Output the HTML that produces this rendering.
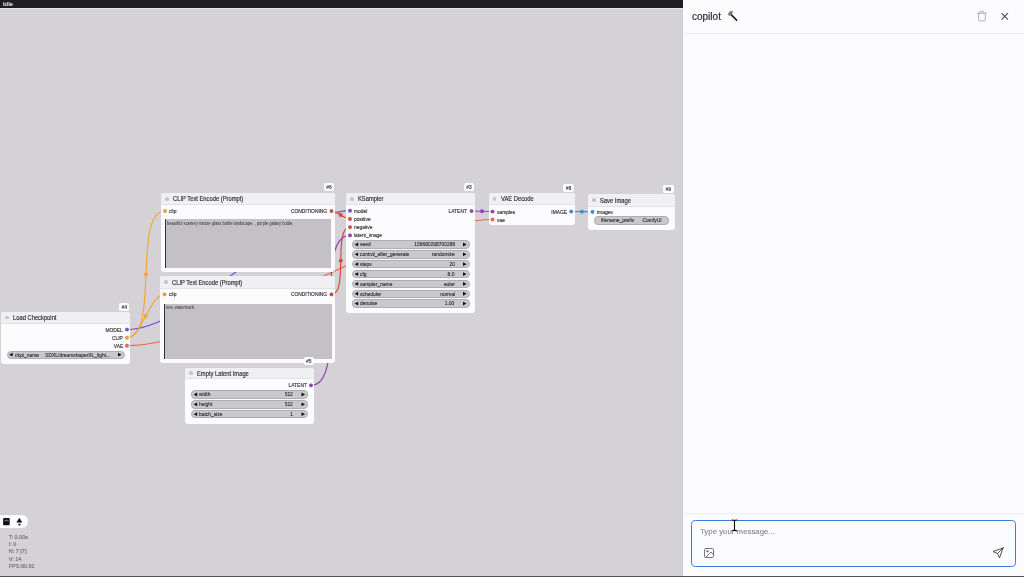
<!DOCTYPE html>
<html><head><meta charset="utf-8"><style>
*{margin:0;padding:0;box-sizing:border-box}
.node,.lbl,.w,.stats{-webkit-text-stroke:0.15px currentColor}
.ta span{-webkit-text-stroke:0}
html,body{width:1024px;height:577px;overflow:hidden;background:#d4d2d6;font-family:"Liberation Sans",sans-serif}
#canvas{position:absolute;left:0;top:0;width:683px;height:577px;background:#d4d2d6;border-right:1px solid #cbc9cd}
#topbar{position:absolute;left:0;top:0;width:683px;height:8px;background:#1f1e21;color:#eee;font-weight:bold;font-size:5.8px;line-height:8px;padding-left:3px}
#topline{position:absolute;left:0;top:8px;width:683px;height:1px;background:#e6e5e8}
#bottomline{position:absolute;left:0;top:576px;width:1024px;height:1px;background:#555}
.node{position:absolute;background:#fcfbfd;border-radius:3px}
.title{position:absolute;left:0;top:0;right:0;background:#f0eff2;border-radius:3px 3px 0 0;border-bottom:1px solid #e2e1e4}
.dot{position:absolute;width:3.7px;height:3.7px;border-radius:50%;background:#c6c5c8}
.tt{position:absolute;font-size:6.4px;color:#2c2c2c;white-space:nowrap;line-height:7px;transform:scaleX(0.906);transform-origin:0 50%}
.badge{position:absolute;background:#fdfcfe;border-radius:2px;font-size:5px;color:#333;text-align:center;font-weight:bold;line-height:8px}
.lbl{position:absolute;font-size:5.3px;color:#333;white-space:nowrap;line-height:6px;transform:scaleX(0.925);transform-origin:0 50%}
.lbl.r{transform-origin:100% 50%}
.sdot{position:absolute;width:3.8px;height:3.8px;border-radius:50%;border:0.4px solid rgba(0,0,0,0.22)}
.ta{position:absolute;background:#c3c1c5;border-left:1px solid #333;font-size:4.1px;color:#303030;padding:1.6px 1px;white-space:nowrap;overflow:hidden;line-height:5px}
.ta span{display:inline-block;font-size:4.45px;transform:scaleX(0.921);transform-origin:0 50%}
.w{position:absolute;background:#c9c8cb;border:0.7px solid #aeadb0;border-radius:4px;font-size:5.3px;color:#333;line-height:7.2px;white-space:nowrap}
.w .l{position:absolute;left:7.3px;top:0.1px;transform:scaleX(0.925);transform-origin:0 50%}
.w .v{position:absolute;right:13.8px;top:0.1px;transform:scaleX(0.925);transform-origin:100% 50%}
.w svg{position:absolute;top:1.6px}

.stats{position:absolute;left:8.7px;font-size:5.5px;color:#707070;line-height:7.4px;white-space:nowrap}
#panel{position:absolute;left:683px;top:0;width:341px;height:576px;background:#fcfbfe}
</style></head><body>
<div id="wrap" style="position:absolute;left:0;top:0;width:1024px;height:577px;will-change:transform">
<div id="canvas"></div>
<div id="topbar">Idle</div>
<div id="topline"></div>
<svg width="683" height="577" style="position:absolute;left:0;top:0" fill="none" stroke-width="1.2"><path d="M127 329.5 C190.16765390609342 329.5 286.83234609390655 210.7 350 210.7" stroke="#7a50d6"/><circle cx="238.5" cy="270.1" r="2" fill="#7a50d6" stroke="none"/><path d="M127 337.7 C160.06895258395704 337.7 131.93104741604296 211 165 211" stroke="#f2a63a"/><circle cx="146.0" cy="274.35" r="2" fill="#f2a63a" stroke="none"/><path d="M127 337.7 C141.33921633144573 337.7 150.16078366855427 294.3 164.5 294.3" stroke="#f2a63a"/><circle cx="145.75" cy="316.0" r="2" fill="#f2a63a" stroke="none"/><path d="M127 345.7 C223.6684701699577 345.7 395.8315298300423 219.5 492.5 219.5" stroke="#ee6a48"/><circle cx="309.75" cy="282.6" r="2" fill="#ee6a48" stroke="none"/><path d="M331.5 211 C336.52904066398355 211 344.97095933601645 218.9 350 218.9" stroke="#d9483b"/><circle cx="340.75" cy="214.95" r="2" fill="#d9483b" stroke="none"/><path d="M331.5 294.3 C348.925 294.3 332.575 227.1 350 227.1" stroke="#d9483b"/><circle cx="340.75" cy="260.7" r="2" fill="#d9483b" stroke="none"/><path d="M311 385.3 C349.7467740592685 385.3 311.2532259407315 235.3 350 235.3" stroke="#9444b4"/><circle cx="330.5" cy="310.3" r="2" fill="#9444b4" stroke="none"/><path d="M471.5 211 C476.7514878844 211 487.2485121156 211.5 492.5 211.5" stroke="#9444b4"/><circle cx="482.0" cy="211.25" r="2" fill="#9444b4" stroke="none"/><path d="M571.2 211.5 C576.5255281428231 211.5 587.174471857177 211.8 592.5 211.8" stroke="#4a88e8"/><circle cx="581.85" cy="211.65" r="2" fill="#4a88e8" stroke="none"/></svg>
<div class="node" style="left:1px;top:312px;width:129px;height:52px"><div class="title" style="height:11.5px"></div><div class="dot" style="left:4px;top:3.75px"></div><div class="tt" style="left:12px;top:2.05px">Load Checkpoint</div></div><div class="badge" style="left:119.3px;top:302.8px;width:10px;height:8px">#4</div><div class="lbl r" style="right:901px;top:326.5px">MODEL</div><div class="lbl r" style="right:901px;top:334.7px">CLIP</div><div class="lbl r" style="right:901px;top:342.7px">VAE</div><div class="w" style="left:6.5px;top:350.5px;width:118px;height:8.4px"><span class="l">ckpt_name</span><span class="v">SDXL/dreamshaperXL_light...</span></div><div class="node" style="left:161px;top:193px;width:174px;height:79px"><div class="title" style="height:12px"></div><div class="dot" style="left:4px;top:4.0px"></div><div class="tt" style="left:12px;top:2.3px">CLIP Text Encode (Prompt)</div></div><div class="badge" style="left:323.8px;top:183.3px;width:10.3px;height:8px">#6</div><div class="lbl" style="left:169px;top:208px">clip</div><div class="lbl r" style="right:697px;top:208px">CONDITIONING</div><div class="ta" style="left:165px;top:219px;width:166px;height:49px"><span>beautiful scenery nature glass bottle landscape, , purple galaxy bottle,</span></div><div class="node" style="left:160px;top:276px;width:175px;height:86.5px"><div class="title" style="height:12.5px"></div><div class="dot" style="left:4px;top:4.25px"></div><div class="tt" style="left:12px;top:2.55px">CLIP Text Encode (Prompt)</div></div><div class="lbl" style="left:168.5px;top:291.3px">clip</div><div class="lbl r" style="right:697px;top:291.3px">CONDITIONING</div><div class="ta" style="left:164px;top:303.5px;width:167.5px;height:55.5px"><span>text, watermark</span></div><div class="node" style="left:346px;top:193px;width:129px;height:119.5px"><div class="title" style="height:12px"></div><div class="dot" style="left:4px;top:4.0px"></div><div class="tt" style="left:12px;top:2.3px">KSampler</div></div><div class="badge" style="left:463.8px;top:183.3px;width:10.4px;height:8px">#3</div><div class="lbl" style="left:354px;top:207.7px">model</div><div class="lbl" style="left:354px;top:215.89999999999998px">positive</div><div class="lbl" style="left:354px;top:224.1px">negative</div><div class="lbl" style="left:354px;top:232.29999999999998px">latent_image</div><div class="lbl r" style="right:557px;top:208px">LATENT</div><div class="w" style="left:352px;top:240.3px;width:117.5px;height:8.4px"><span class="l">seed</span><span class="v">156680208700286</span></div><div class="w" style="left:352px;top:250.15px;width:117.5px;height:8.4px"><span class="l">control_after_generate</span><span class="v">randomize</span></div><div class="w" style="left:352px;top:260.0px;width:117.5px;height:8.4px"><span class="l">steps</span><span class="v">20</span></div><div class="w" style="left:352px;top:269.85px;width:117.5px;height:8.4px"><span class="l">cfg</span><span class="v">8.0</span></div><div class="w" style="left:352px;top:279.7px;width:117.5px;height:8.4px"><span class="l">sampler_name</span><span class="v">euler</span></div><div class="w" style="left:352px;top:289.55px;width:117.5px;height:8.4px"><span class="l">scheduler</span><span class="v">normal</span></div><div class="w" style="left:352px;top:299.4px;width:117.5px;height:8.4px"><span class="l">denoise</span><span class="v">1.00</span></div><div class="node" style="left:488.5px;top:193px;width:86px;height:31.5px"><div class="title" style="height:12px"></div><div class="dot" style="left:4px;top:4.0px"></div><div class="tt" style="left:12px;top:2.3px">VAE Decode</div></div><div class="badge" style="left:563.2px;top:184px;width:10.6px;height:8px">#8</div><div class="lbl" style="left:496.5px;top:208.5px">samples</div><div class="lbl" style="left:496.5px;top:216.5px">vae</div><div class="lbl r" style="right:457px;top:208.5px">IMAGE</div><div class="node" style="left:588px;top:194px;width:86.5px;height:36px"><div class="title" style="height:12.5px"></div><div class="dot" style="left:4px;top:4.25px"></div><div class="tt" style="left:12px;top:2.55px">Save Image</div></div><div class="badge" style="left:663px;top:184.8px;width:10.6px;height:8px">#9</div><div class="lbl" style="left:596.5px;top:208.8px">images</div><div class="w" style="left:593.5px;top:216.3px;width:75.2px;height:8.9px"><span class="l" style="left:6.3px">filename_prefix</span><span class="v" style="right:6.3px">ComfyUI</span></div><div class="node" style="left:185px;top:367.5px;width:129px;height:56px"><div class="title" style="height:11.5px"></div><div class="dot" style="left:4px;top:3.75px"></div><div class="tt" style="left:12px;top:2.05px">Empty Latent Image</div></div><div class="badge" style="left:303.5px;top:357.2px;width:10.5px;height:8px">#5</div><div class="lbl r" style="right:717.5px;top:382.3px">LATENT</div><div class="w" style="left:191px;top:390.3px;width:117px;height:8.4px"><span class="l">width</span><span class="v">512</span></div><div class="w" style="left:191px;top:400.15000000000003px;width:117px;height:8.4px"><span class="l">height</span><span class="v">512</span></div><div class="w" style="left:191px;top:410.0px;width:117px;height:8.4px"><span class="l">batch_size</span><span class="v">1</span></div>
<svg width="683" height="577" style="position:absolute;left:0;top:0"><circle cx="127" cy="329.5" r="1.85" fill="#7a50d6" stroke="rgba(0,0,0,0.25)" stroke-width="0.4"/><circle cx="127" cy="337.7" r="1.85" fill="#f2a63a" stroke="rgba(0,0,0,0.25)" stroke-width="0.4"/><circle cx="127" cy="345.7" r="1.85" fill="#ee6a48" stroke="rgba(0,0,0,0.25)" stroke-width="0.4"/><path d="M9.1 354.7 L12.7 352.8 L12.7 356.59999999999997Z" fill="#111"/><path d="M121.6 354.7 L118.0 352.8 L118.0 356.59999999999997Z" fill="#111"/><circle cx="165" cy="211" r="1.85" fill="#f2a63a" stroke="rgba(0,0,0,0.25)" stroke-width="0.4"/><circle cx="331.5" cy="211" r="1.85" fill="#d9483b" stroke="rgba(0,0,0,0.25)" stroke-width="0.4"/><circle cx="164.5" cy="294.3" r="1.85" fill="#f2a63a" stroke="rgba(0,0,0,0.25)" stroke-width="0.4"/><circle cx="331.5" cy="294.3" r="1.85" fill="#d9483b" stroke="rgba(0,0,0,0.25)" stroke-width="0.4"/><circle cx="350" cy="210.7" r="1.85" fill="#7a50d6" stroke="rgba(0,0,0,0.25)" stroke-width="0.4"/><circle cx="350" cy="218.89999999999998" r="1.85" fill="#d9483b" stroke="rgba(0,0,0,0.25)" stroke-width="0.4"/><circle cx="350" cy="227.1" r="1.85" fill="#d9483b" stroke="rgba(0,0,0,0.25)" stroke-width="0.4"/><circle cx="350" cy="235.29999999999998" r="1.85" fill="#9444b4" stroke="rgba(0,0,0,0.25)" stroke-width="0.4"/><circle cx="471.5" cy="211" r="1.85" fill="#9444b4" stroke="rgba(0,0,0,0.25)" stroke-width="0.4"/><path d="M354.6 244.5 L358.2 242.6 L358.2 246.4Z" fill="#111"/><path d="M466.6 244.5 L463.0 242.6 L463.0 246.4Z" fill="#111"/><path d="M354.6 254.35 L358.2 252.45 L358.2 256.25Z" fill="#111"/><path d="M466.6 254.35 L463.0 252.45 L463.0 256.25Z" fill="#111"/><path d="M354.6 264.2 L358.2 262.3 L358.2 266.09999999999997Z" fill="#111"/><path d="M466.6 264.2 L463.0 262.3 L463.0 266.09999999999997Z" fill="#111"/><path d="M354.6 274.05 L358.2 272.15000000000003 L358.2 275.95Z" fill="#111"/><path d="M466.6 274.05 L463.0 272.15000000000003 L463.0 275.95Z" fill="#111"/><path d="M354.6 283.9 L358.2 282.0 L358.2 285.79999999999995Z" fill="#111"/><path d="M466.6 283.9 L463.0 282.0 L463.0 285.79999999999995Z" fill="#111"/><path d="M354.6 293.75 L358.2 291.85 L358.2 295.65Z" fill="#111"/><path d="M466.6 293.75 L463.0 291.85 L463.0 295.65Z" fill="#111"/><path d="M354.6 303.59999999999997 L358.2 301.7 L358.2 305.49999999999994Z" fill="#111"/><path d="M466.6 303.59999999999997 L463.0 301.7 L463.0 305.49999999999994Z" fill="#111"/><circle cx="492.5" cy="211.5" r="1.85" fill="#9444b4" stroke="rgba(0,0,0,0.25)" stroke-width="0.4"/><circle cx="492.5" cy="219.5" r="1.85" fill="#ee6a48" stroke="rgba(0,0,0,0.25)" stroke-width="0.4"/><circle cx="571.2" cy="211.5" r="1.85" fill="#4a88e8" stroke="rgba(0,0,0,0.25)" stroke-width="0.4"/><circle cx="592.5" cy="211.8" r="1.85" fill="#4a88e8" stroke="rgba(0,0,0,0.25)" stroke-width="0.4"/><circle cx="311" cy="385.3" r="1.85" fill="#9444b4" stroke="rgba(0,0,0,0.25)" stroke-width="0.4"/><path d="M193.6 394.5 L197.2 392.6 L197.2 396.4Z" fill="#111"/><path d="M305.1 394.5 L301.5 392.6 L301.5 396.4Z" fill="#111"/><path d="M193.6 404.35 L197.2 402.45000000000005 L197.2 406.25Z" fill="#111"/><path d="M305.1 404.35 L301.5 402.45000000000005 L301.5 406.25Z" fill="#111"/><path d="M193.6 414.2 L197.2 412.3 L197.2 416.09999999999997Z" fill="#111"/><path d="M305.1 414.2 L301.5 412.3 L301.5 416.09999999999997Z" fill="#111"/></svg>
<div style="position:absolute;left:-6px;top:515.3px;width:34px;height:12.4px;background:#fcfbfd;border-radius:6.2px"></div><svg style="position:absolute;left:0;top:510px" width="32" height="22" viewBox="0 0 32 22"><rect x="3.1" y="8" width="6.6" height="7.3" rx="1" fill="#111"/><rect x="4.3" y="9.8" width="4.3" height="1.5" fill="#666"/><path d="M19.35 8.2 L21.9 12.3 L16.8 12.3 Z" fill="#111" stroke="#111" stroke-width="0.5" stroke-linejoin="round"/><path d="M18.2 14 L20.6 14 L19.4 15.6 Z" fill="#111" stroke="#111" stroke-width="0.4" stroke-linejoin="round"/></svg>
<div class="stats" style="top:533.6px">T: 0.00s<br>I: 0<br>N: 7 [7]<br>V: 14<br>FPS:90.91</div>
<div id="panel">
<div style="position:absolute;left:9px;top:10px;font-size:10px;color:#2e2e34;line-height:14px;-webkit-text-stroke:0.2px currentColor">copilot</div>
<svg style="position:absolute;left:0;top:0" width="341" height="40">
<g transform="translate(44 10)">
<path d="M4.1 4.6 L9.6 10.1" stroke="#1a1a1a" stroke-width="1.55" stroke-linecap="round"/>
<path d="M1.0 4.3 L3.0 1.3 L5.9 1.2 L4.6 4.5 L2.2 5.8 Z" fill="#737377" stroke="#737377" stroke-width="0.3" stroke-linejoin="round"/>
</g>
<g transform="translate(293.2 10.3) scale(0.479)" fill="none" stroke="#a4a4ac" stroke-width="1.9" stroke-linecap="round" stroke-linejoin="round">
<path d="M3 6h18M19 6v14a2 2 0 0 1-2 2H7a2 2 0 0 1-2-2V6M8 6V4a2 2 0 0 1 2-2h4a2 2 0 0 1 2 2v2"/>
</g>
<path d="M318.6 13.1 L324.9 19.7 M324.9 13.1 L318.6 19.7" fill="none" stroke="#45454d" stroke-width="1.05"/>
</svg>
<div style="position:absolute;left:0;top:33px;width:341px;height:1px;background:#ededf1"></div>
<div style="position:absolute;left:0;top:513px;width:341px;height:1px;background:#eeeef2"></div>
<div style="position:absolute;left:7.8px;top:519.6px;width:324.8px;height:47.6px;border:1.7px solid #3b78e0;border-radius:4.6px;background:#fcfbfd"></div>
<div style="position:absolute;left:17px;top:525.5px;font-size:7.85px;color:#86868c;line-height:12px;-webkit-text-stroke:0.1px currentColor">Type your message...</div>
<svg style="position:absolute;left:20.2px;top:547px" width="12" height="12" viewBox="0 0 24 24" fill="none" stroke="#707078" stroke-width="1.9" stroke-linecap="round" stroke-linejoin="round">
<rect x="3" y="3" width="18" height="18" rx="2.5"/><circle cx="8.5" cy="8.5" r="1.5"/><polyline points="21 15 16 10 5 21"/>
</svg>
<svg style="position:absolute;left:308.8px;top:547.2px" width="12" height="12" viewBox="0 0 24 24" fill="none" stroke="#44444c" stroke-width="1.9" stroke-linecap="round" stroke-linejoin="round">
<line x1="22" y1="2" x2="11" y2="13"/><polygon points="22 2 15 22 11 13 2 9 22 2"/>
</svg>
<svg style="position:absolute;left:47px;top:517.7px" width="9" height="14" viewBox="0 0 9 14" fill="none">
<path d="M1.6 2.2 Q4.5 1.8 4.5 3.6 Q4.5 1.8 7.4 2.2 M4.5 3.6 V11.1 M1.6 12.8 Q4.5 13.1 4.5 11.1 Q4.5 13.1 7.4 12.8" stroke="#fff" stroke-width="2.1"/>
<path d="M1.6 2.2 Q4.5 1.8 4.5 3.6 Q4.5 1.8 7.4 2.2 M4.5 3.6 V11.1 M1.6 12.8 Q4.5 13.1 4.5 11.1 Q4.5 13.1 7.4 12.8" stroke="#000" stroke-width="1.1"/>
</svg>
</div>
<div id="bottomline"></div>
</div>
</body></html>
